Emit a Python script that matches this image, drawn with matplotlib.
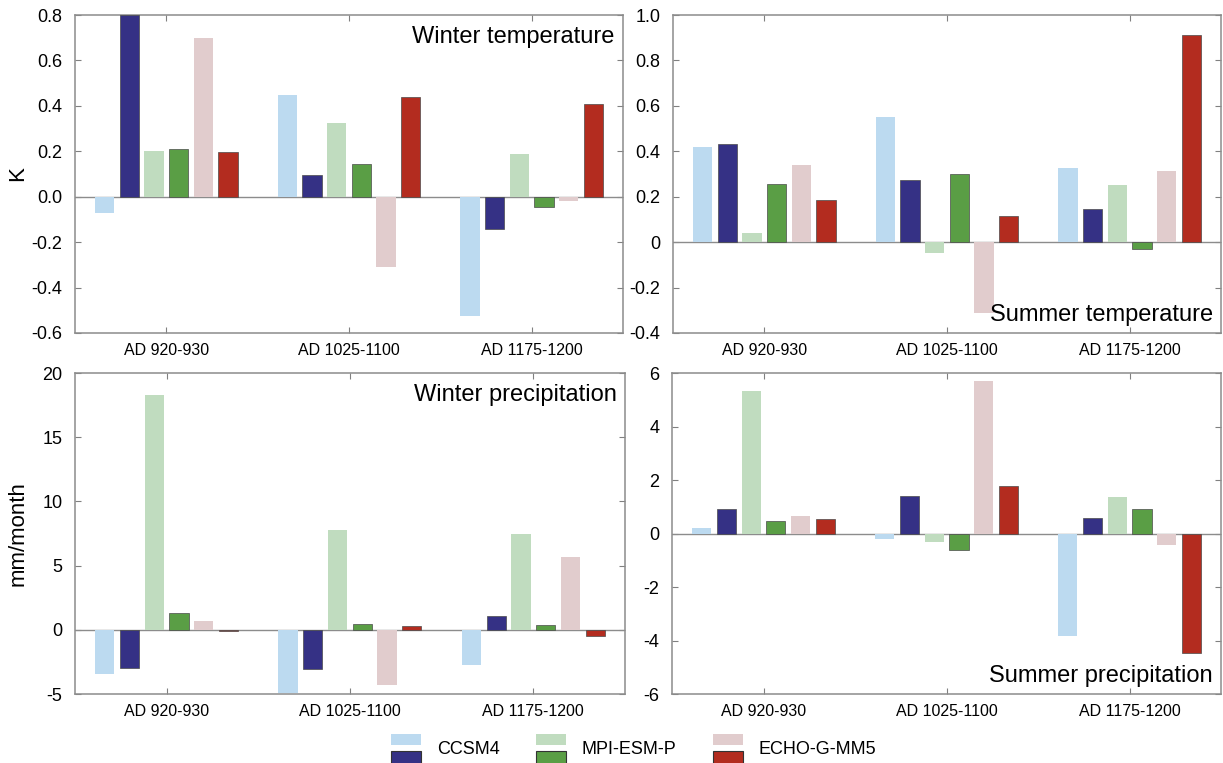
import numpy as np
import matplotlib
matplotlib.use("Agg")
import matplotlib.pyplot as plt
from matplotlib.patches import Rectangle
from matplotlib.legend_handler import HandlerBase
from matplotlib.ticker import FuncFormatter

plt.rcParams['font.family'] = ['Liberation Sans', 'DejaVu Sans']
plt.rcParams['axes.unicode_minus'] = False

periods = ["AD 920-930", "AD 1025-1100", "AD 1175-1200"]
models = ["CCSM4", "MPI-ESM-P", "ECHO-G-MM5"]

# six series per panel: light / dark variant of each model
colors = ["#bcdaf0", "#353185", "#c0dcbf", "#5a9e45", "#e1cccd", "#b32c1f"]
dark = [False, True, False, True, False, True]

winter_temp = [
    [-0.07, 0.45, -0.525],
    [0.80, 0.095, -0.14],
    [0.20, 0.325, 0.19],
    [0.21, 0.145, -0.045],
    [0.70, -0.31, -0.02],
    [0.195, 0.44, 0.41],
]
summer_temp = [
    [0.42, 0.55, 0.325],
    [0.43, 0.275, 0.145],
    [0.04, -0.05, 0.25],
    [0.255, 0.30, -0.03],
    [0.34, -0.31, 0.315],
    [0.185, 0.115, 0.91],
]
winter_prec = [
    [-3.45, -4.9, -2.75],
    [-3.0, -3.05, 1.1],
    [18.3, 7.75, 7.45],
    [1.3, 0.45, 0.4],
    [0.7, -4.3, 5.7],
    [-0.1, 0.3, -0.45],
]
summer_prec = [
    [0.2, -0.22, -3.82],
    [0.9, 1.4, 0.57],
    [5.33, -0.32, 1.35],
    [0.45, -0.62, 0.93],
    [0.65, 5.72, -0.42],
    [0.55, 1.78, -4.45],
]


class PairHandler(HandlerBase):
    def create_artists(self, legend, orig_handle, xdescent, ydescent,
                       width, height, fontsize, trans):
        light, drk = orig_handle
        h = height
        r1 = Rectangle((-xdescent, -ydescent + 0.75 * h), width, 0.85 * h,
                       facecolor=light, edgecolor='none', transform=trans)
        r2 = Rectangle((-xdescent, -ydescent - 0.75 * h), width, 1.05 * h,
                       facecolor=drk, edgecolor='#333333', lw=0.8, transform=trans)
        return [r1, r2]


def panel(ax, data, ylim, step, label, where, fmt):
    x = np.arange(1, len(periods) + 1)
    for i, vals in enumerate(data):
        ax.bar(x + (i - 2.5) * 0.135, vals, width=0.105, color=colors[i],
               edgecolor='#4a4a4a' if dark[i] else 'none',
               linewidth=0.5, zorder=3)
    ax.axhline(0, color='#8c8c8c', lw=1.0, zorder=2)
    ax.set_xlim(0.5, 3.5)
    ax.set_ylim(*ylim)
    ax.set_yticks(np.arange(ylim[0], ylim[1] + step / 2, step))
    ax.yaxis.set_major_formatter(FuncFormatter(fmt))
    ax.set_xticks(x)
    ax.set_xticklabels(periods)
    ax.tick_params(direction='in', top=True, right=True, length=4,
                   color='#808080')
    ax.tick_params(axis='x', pad=7, labelsize=11.5)
    ax.tick_params(axis='y', pad=9, labelsize=13)
    for s in ax.spines.values():
        s.set_color('#8c8c8c')
        s.set_linewidth(1.1)
    if where == 'top':
        ax.text(0.985, 0.965, label, transform=ax.transAxes, ha='right',
                va='top', fontsize=17, zorder=5)
    else:
        ax.text(0.985, 0.022, label, transform=ax.transAxes, ha='right',
                va='bottom', fontsize=17, zorder=5)


fig = plt.figure(figsize=(12.23, 7.63), dpi=100)
ax1 = fig.add_axes([0.0613, 0.5636, 0.4481, 0.4167])
ax2 = fig.add_axes([0.5503, 0.5636, 0.4481, 0.4167])
ax3 = fig.add_axes([0.0613, 0.0904, 0.4497, 0.4207])
ax4 = fig.add_axes([0.5495, 0.0904, 0.4489, 0.4207])

f1 = lambda v, p: f'{v:.1f}'
f0 = lambda v, p: '0' if abs(v) < 1e-9 else f'{v:.1f}'
fi = lambda v, p: f'{v:.0f}'

panel(ax1, winter_temp, (-0.6, 0.8), 0.2, "Winter temperature", 'top', f1)
panel(ax2, summer_temp, (-0.4, 1.0), 0.2, "Summer temperature", 'bottom', f0)
panel(ax3, winter_prec, (-5, 20), 5, "Winter precipitation", 'top', fi)
panel(ax4, summer_prec, (-6, 6), 2, "Summer precipitation", 'bottom', fi)

ax1.set_ylabel("K", fontsize=16, va='center')
ax1.yaxis.set_label_coords(-0.104, 0.5)
ax3.set_ylabel("mm/month", fontsize=16, va='center')
ax3.yaxis.set_label_coords(-0.103, 0.5)

handles = [(colors[0], colors[1]), (colors[2], colors[3]), (colors[4], colors[5])]
fig.legend(handles, models, handler_map={tuple: PairHandler()},
           loc='center', bbox_to_anchor=(0.518, 1 - 750 / 763), ncol=3,
           frameon=False, fontsize=13, handlelength=1.7,
           handletextpad=0.85, columnspacing=2.0)

fig.savefig("out.png", dpi=100)
